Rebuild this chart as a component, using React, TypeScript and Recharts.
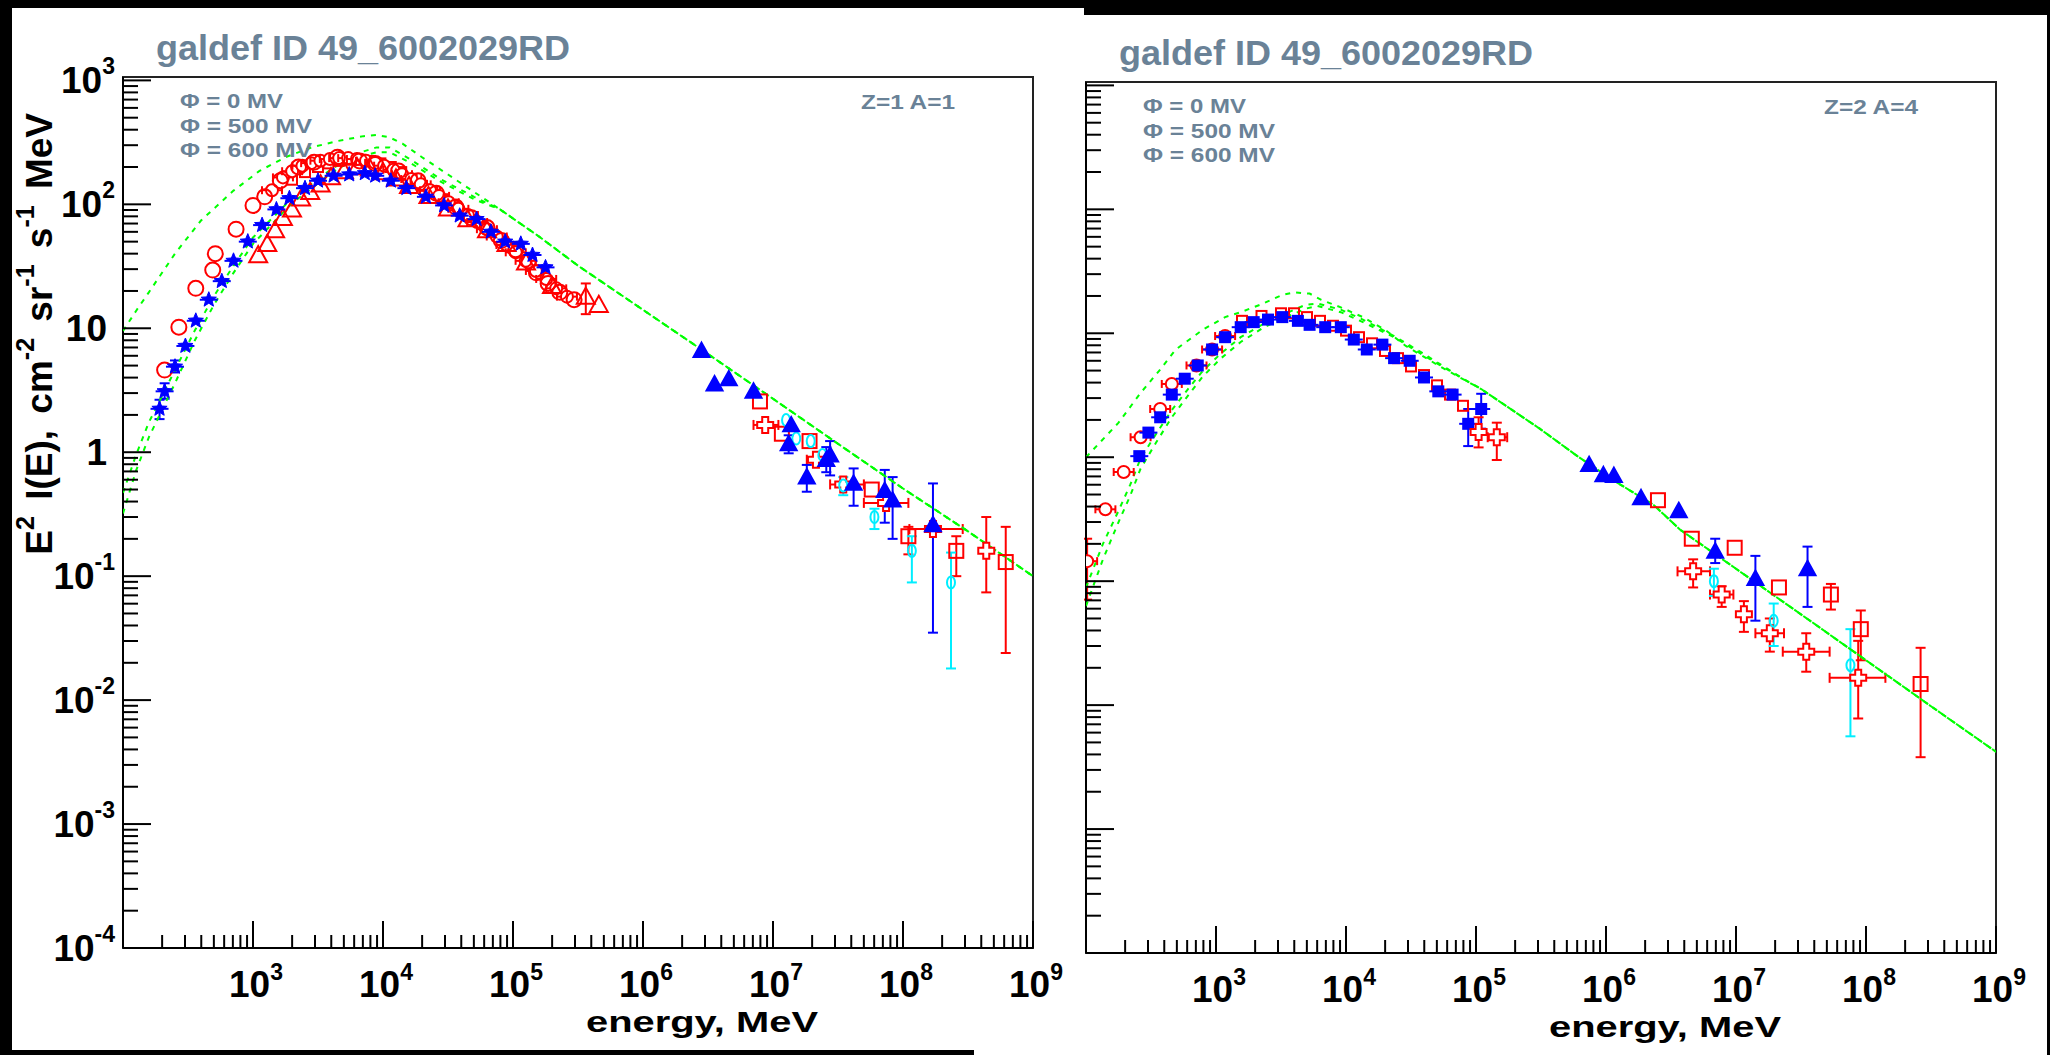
import React from "react";
import { ScatterChart, Scatter, XAxis, YAxis, ErrorBar, ReferenceArea } from "recharts";

const GREEN = "#00ff00";
const RED = "#ff0000";
const BLUE = "#0000ff";
const CYAN = "#00eeff";
const SLATE = "#6a8297";
const FONT = "'Liberation Sans', Arial, Helvetica, sans-serif";

const X_DOMAIN = [1e2, 1e9];
const Y_DOMAIN = [1e-4, 1065];

const X_DECADES = [1e2, 1e3, 1e4, 1e5, 1e6, 1e7, 1e8, 1e9];
const Y_DECADES = [1e-4, 1e-3, 1e-2, 1e-1, 1, 10, 1e2, 1e3];
const MINOR_STEPS = [2, 3, 4, 5, 6, 7, 8, 9];

const X_TICK_LABELS: [number, string, string][] = [
  [1e3, "10", "3"], [1e4, "10", "4"], [1e5, "10", "5"], [1e6, "10", "6"],
  [1e7, "10", "7"], [1e8, "10", "8"], [1e9, "10", "9"],
];
const Y_TICK_LABELS: [number, string, string][] = [
  [1e3, "10", "3"], [1e2, "10", "2"], [10, "10", ""], [1, "1", ""],
  [1e-1, "10", "-1"], [1e-2, "10", "-2"], [1e-3, "10", "-3"], [1e-4, "10", "-4"],
];

const TITLE = "galdef ID 49_6002029RD";
const LEGEND = ["\u03A6 = 0 MV", "\u03A6 = 500 MV", "\u03A6 = 600 MV"];
const NUCLEUS = ["Z=1 A=1", "Z=2 A=4"];
const X_TITLE = "energy, MeV";

// [E (MeV), E^2 I(E), yLow?, yHigh?, xLow?, xHigh?]
type Pt = (number | null)[];

// ---------- protons (left pad) ----------
const pTail: Pt[] = [[158489, 55], [316228, 32], [794328, 16.6], [3.16e6, 6.2], [1e7, 2.7], [3.16e7, 1.17], [1e8, 0.51], [3.16e8, 0.23], [1e9, 0.1]];
const pPhi0: Pt[] = [[100, 9.5], [126, 13.8], [158, 19.5], [251, 40], [398, 74], [708, 129], [1122, 186], [1778, 240], [2818, 288], [4467, 324], [7079, 355], [8913, 363], [11220, 347], [14125, 309], [19953, 240], [31623, 174], [50119, 126], [79433, 91], ...pTail];
const pPhi500: Pt[] = [[100, 0.47], [126, 0.95], [158, 1.74], [251, 4.6], [355, 9.5], [501, 18.2], [708, 32], [1000, 54], [1995, 112], [3981, 191], [6310, 257], [8913, 288], [11220, 288], [15849, 234], [28184, 158], [50119, 115], [79433, 91], ...pTail];
const pPhi600: Pt[] = [[100, 0.32], [126, 0.71], [158, 1.32], [251, 3.6], [355, 7.9], [501, 15.5], [708, 28], [1000, 48], [1995, 102], [3981, 178], [6310, 240], [8913, 263], [11220, 263], [15849, 219], [28184, 151], [50119, 110], [79433, 91], ...pTail];

const pRedCircle: Pt[] = [[209, 4.6], [269, 10.2], [363, 21], [490, 29.5], [513, 40], [741, 63], [1000, 98], [1230, 115], [1622, 155], [2239, 200], [2951, 219], [4467, 240], [6607, 224], [8710, 214], [13183, 186], [18621, 155], [25704, 123], [36308, 95], [47863, 78], [63096, 65], [81283, 51], [104713, 43], [131826, 35], [151356, 28], [186209, 23], [229087, 19.5], [295121, 17]];
const pRedBand: Pt[] = [[1400, 130], [1700, 165], [2000, 185], [2400, 205], [2800, 215], [3300, 225], [3900, 232], [4600, 236], [5400, 236], [6300, 232], [7400, 225], [8700, 216], [10200, 205], [12000, 190], [14000, 175], [16500, 160], [19500, 145], [23000, 130], [27000, 117], [32000, 104], [38000, 92], [45000, 82], [53000, 72], [63000, 63], [75000, 55], [89000, 47], [105000, 41], [125000, 35], [150000, 29], [180000, 25], [215000, 21], [260000, 18]];
const pRedTriangle: Pt[] = [[1096, 39], [1288, 48], [1479, 62], [1698, 78], [1995, 91], [2344, 112], [2754, 126], [3311, 145], [3981, 166], [5012, 186], [6310, 200], [7943, 195], [10000, 182], [12589, 162], [15849, 141], [22387, 117], [31623, 93], [44668, 76], [63096, 62], [89125, 48], [125893, 34], [199526, 22], [363078, 18, 13, 23], [457088, 15.5]];
const pRedDense: Pt[] = [[1995, 158], [2512, 182], [3162, 200], [3802, 214], [4571, 224], [5495, 229], [6607, 229], [7943, 224], [9550, 214], [11482, 200], [13804, 182], [16596, 158], [19953, 141], [23988, 126], [28840, 110], [34674, 98]];
const pBlueLow: Pt[] = [[191, 2.24, 1.85, 2.65], [209, 3.1, 2.7, 3.6], [251, 4.9, 4.4, 5.5], [302, 7.2], [363, 11.5], [457, 17], [575, 24], [708, 35], [912, 50], [1175, 68], [1514, 91], [1905, 112], [2512, 135], [3162, 155], [4169, 170], [5495, 174], [7244, 178], [8710, 170], [11482, 155], [15136, 135], [21380, 115], [29512, 98], [38905, 81], [52481, 76], [67608, 60], [87096, 50], [114815, 48], [141254, 39], [177828, 31]];
const pBlueTri: Pt[] = [[2.82e6, 6.6], [3.55e6, 3.55], [4.57e6, 3.9], [7.08e6, 3.1], [1.38e7, 1.66], [1.32e7, 1.17, 0.98, 1.37], [1.82e7, 0.63, 0.48, 0.79], [2.75e7, 0.95, 0.65, 1.23], [2.57e7, 0.87, 0.69, 1.1], [4.17e7, 0.56, 0.37, 0.74], [7.24e7, 0.49, 0.27, 0.72], [8.32e7, 0.41, 0.2, 0.63], [1.7e8, 0.26, 0.035, 0.56]];
const pRedSquare: Pt[] = [[7.94e6, 2.57], [1.17e7, 1.41], [1.91e7, 1.23], [5.75e7, 0.5], [1.1e8, 0.21, 0.15, 0.25], [2.57e8, 0.16, 0.1, 0.21], [6.17e8, 0.13, 0.024, 0.25]];
const pRedCross: Pt[] = [[8.71e6, 1.66, null, null, 7.08e6, 1.1e7], [2.14e7, 0.87, null, null, 1.82e7, 2.57e7], [3.47e7, 0.55, null, null, 2.75e7, 5.0e7], [7.41e7, 0.39, null, null, 5.0e7, 1.1e8], [1.7e8, 0.24, null, null, 1.12e8, 2.88e8], [4.37e8, 0.16, 0.074, 0.3]];
const pCyan: Pt[] = [[1.26e7, 1.82], [1.51e7, 1.29], [1.95e7, 1.23], [2.4e7, 0.95], [3.47e7, 0.54, 0.45, 0.63], [6.03e7, 0.3, 0.24, 0.35], [1.17e8, 0.16, 0.089, 0.21], [2.34e8, 0.089, 0.018, 0.155]];

// ---------- helium (right pad) ----------
const hTail: Pt[] = [[109648, 3.55], [309030, 1.7], [602560, 1.02], [1.2e6, 0.63], [2.34e6, 0.41], [3.72e6, 0.26], [1e7, 0.126], [3.16e7, 0.054], [1e8, 0.023], [3.16e8, 0.0098], [1e9, 0.0042]];
const hPhi0: Pt[] = [[100, 1.0], [178, 1.9], [263, 3.3], [372, 5.1], [490, 7.4], [794, 10.7], [1175, 13.5], [1549, 14.8], [2188, 17], [3236, 20.4], [3981, 21.4], [5248, 20.9], [6457, 18.6], [9120, 16.2], [13490, 13.5], [20417, 10.5], [28840, 7.9], [56234, 5.2], ...hTail];
const hPhi500: Pt[] = [[100, 0.089], [135, 0.2], [178, 0.37], [219, 0.6], [263, 0.98], [347, 1.55], [457, 2.4], [603, 3.5], [794, 5.0], [1096, 6.9], [1549, 9.3], [2344, 12.0], [3467, 14.5], [4898, 17.0], [6026, 17.4], [9120, 15.5], [13490, 12.9], [23442, 9.5], [39811, 6.8], [79433, 4.3], ...hTail];
const hPhi600: Pt[] = [[100, 0.063], [135, 0.15], [178, 0.3], [219, 0.49], [263, 0.81], [347, 1.32], [457, 2.1], [603, 3.1], [794, 4.5], [1096, 6.3], [1549, 8.5], [2344, 11.2], [3467, 13.5], [4898, 15.8], [6026, 16.6], [9120, 14.8], [13490, 12.3], [23442, 9.3], [39811, 6.6], [79433, 4.3], ...hTail];

const hRedCircle: Pt[] = [[102, 0.145, 0.071, 0.22], [141, 0.38], [195, 0.76], [263, 1.45], [372, 2.45], [457, 3.9], [708, 5.5], [933, 7.4], [1175, 9.5]];
const hRedDense: Pt[] = [[1585, 12.6], [2239, 13.8], [3162, 14.5], [3981, 14.5], [5012, 13.5], [6310, 12.6], [7943, 11.5], [10000, 10.5], [12589, 9.3], [15849, 8.3], [19953, 7.2], [25119, 6.3], [31623, 5.4], [39811, 4.6], [50119, 3.8], [63096, 3.2], [79433, 2.6]];
const hBlueLow: Pt[] = [[257, 1.02], [302, 1.58], [372, 2.1], [457, 3.2], [575, 4.3], [724, 5.5], [933, 7.4], [1175, 9.3], [1549, 11.2], [1950, 12.3], [2512, 12.9], [3236, 13.5], [4266, 12.6], [5248, 11.7], [6918, 11.2], [9120, 11.2], [11482, 8.9], [14454, 7.4], [19055, 8.1], [23442, 6.3], [30903, 6.0], [39811, 4.4], [51286, 3.4], [66069, 3.2], [87096, 1.86, 1.23, 2.45], [109648, 2.45, 1.7, 3.25]];
const hBlueTri: Pt[] = [[741310, 0.87], [954993, 0.72], [1.15e6, 0.71], [1.86e6, 0.47], [3.63e6, 0.37], [6.92e6, 0.174, 0.14, 0.22], [1.41e7, 0.105, 0.048, 0.16], [3.55e7, 0.126, 0.062, 0.19]];
const hRedSquare: Pt[] = [[2.51e6, 0.45], [4.57e6, 0.22], [9.77e6, 0.186], [2.14e7, 0.089], [5.37e7, 0.078, 0.059, 0.095], [9.12e7, 0.041, 0.023, 0.058], [2.63e8, 0.0148, 0.0038, 0.029]];
const hRedCross: Pt[] = [[104713, 1.6, 1.2, 2.1], [144544, 1.45, 0.95, 1.9, 123027, 173780], [4.68e6, 0.12, 0.089, 0.15, 3.55e6, 6.31e6], [7.76e6, 0.078, 0.062, 0.091, 6.31e6, 9.55e6], [1.15e7, 0.054, 0.039, 0.069], [1.82e7, 0.038, 0.027, 0.05, 1.41e7, 2.34e7], [3.47e7, 0.027, 0.0186, 0.038, 2.29e7, 5.25e7], [8.71e7, 0.0166, 0.0078, 0.033, 5.25e7, 1.41e8]];
const hCyan: Pt[] = [[6.76e6, 0.1, 0.076, 0.126], [1.95e7, 0.048, 0.03, 0.066], [7.59e7, 0.021, 0.0056, 0.041]];

const toRows = (pts: Pt[]) =>
  pts.map(([x, y, lo, hi, xlo, xhi]) => {
    const row: any = { x, y };
    if (lo != null && hi != null) row.ey = [(y as number) - lo, hi - (y as number)];
    if (xlo != null && xhi != null) row.ex = [(x as number) - xlo, xhi - (x as number)];
    return row;
  });

const X_TICKS = X_DECADES.concat(X_DECADES.slice(0, -1).flatMap((d) => MINOR_STEPS.map((m) => m * d)));
const Y_TICKS = Y_DECADES.concat(Y_DECADES.slice(0, -1).flatMap((d) => MINOR_STEPS.map((m) => m * d)));

const isDecade = (v: number) => Math.abs(Math.log10(v) - Math.round(Math.log10(v))) < 1e-6;
const findLabel = (labels: [number, string, string][], v: number) =>
  labels.find((l) => Math.abs(l[0] / v - 1) < 1e-6);

// ---------- markers ----------
const noMark = () => <g />;
const openCircle = (color: string, r: number) => (p: any) => (
  <circle cx={p.cx} cy={p.cy} r={r} fill="none" stroke={color} strokeWidth={2} />
);
const triangle = (color: string, s: number, filled: boolean) => (p: any) => (
  <path
    d={`M${p.cx},${p.cy - s}L${p.cx + s},${p.cy + s * 0.8}L${p.cx - s},${p.cy + s * 0.8}Z`}
    fill={filled ? color : "none"}
    stroke={color}
    strokeWidth={2}
  />
);
const openSquare = (color: string, s: number) => (p: any) => (
  <rect x={p.cx - s} y={p.cy - s} width={2 * s} height={2 * s} fill="none" stroke={color} strokeWidth={2} />
);
const openCross = (color: string, a: number, b: number) => (p: any) => {
  const { cx, cy } = p;
  const d = `M${cx - b},${cy - a}H${cx + b}V${cy - b}H${cx + a}V${cy + b}H${cx + b}V${cy + a}H${cx - b}V${cy + b}H${cx - a}V${cy - b}H${cx - b}Z`;
  return <path d={d} fill="#fff" stroke={color} strokeWidth={2} />;
};
const smallOval = (color: string) => (p: any) => (
  <ellipse cx={p.cx} cy={p.cy} rx={4} ry={6} fill="none" stroke={color} strokeWidth={2} />
);
const capCircle = (color: string) => (p: any) => (
  <g>
    <line x1={p.cx - 10} x2={p.cx + 10} y1={p.cy} y2={p.cy} stroke={color} strokeWidth={2} />
    <line x1={p.cx - 10} x2={p.cx - 10} y1={p.cy - 4} y2={p.cy + 4} stroke={color} strokeWidth={2} />
    <line x1={p.cx + 10} x2={p.cx + 10} y1={p.cy - 4} y2={p.cy + 4} stroke={color} strokeWidth={2} />
    <circle cx={p.cx} cy={p.cy} r={6} fill="#fff" stroke={color} strokeWidth={2} />
  </g>
);
const blueStar = (p: any) => {
  let d = "";
  for (let i = 0; i < 10; i++) {
    const a = -Math.PI / 2 + (i * Math.PI) / 5;
    const rad = i % 2 === 0 ? 8 : 3.5;
    d += (i === 0 ? "M" : "L") + (p.cx + rad * Math.cos(a)).toFixed(1) + "," + (p.cy + rad * Math.sin(a)).toFixed(1);
  }
  return (
    <g>
      <line x1={p.cx - 9} x2={p.cx + 9} y1={p.cy} y2={p.cy} stroke={BLUE} strokeWidth={2} />
      <path d={d + "Z"} fill={BLUE} stroke={BLUE} strokeWidth={1} />
    </g>
  );
};
const blueBox = (p: any) => (
  <g>
    <line x1={p.cx - 9} x2={p.cx + 9} y1={p.cy} y2={p.cy} stroke={BLUE} strokeWidth={2} />
    <rect x={p.cx - 6} y={p.cy - 6} width={12} height={12} fill={BLUE} />
  </g>
);

// ---------- axis ticks (ROOT style, drawn inward) ----------
const XTick = (props: any) => {
  const { x, y, payload } = props;
  const v = payload.value;
  const lab = findLabel(X_TICK_LABELS, v);
  return (
    <g>
      <line x1={x} x2={x} y1={y} y2={y - (isDecade(v) ? 27 : 13)} stroke="#000" strokeWidth={2} />
      {lab && (
        <text x={x + 3} y={y + 49} textAnchor="middle" fontFamily={FONT} fontWeight="bold" fontSize={37} fill="#000">
          <tspan>{lab[1]}</tspan>
          <tspan dy={-17} fontSize={23}>{lab[2]}</tspan>
        </text>
      )}
    </g>
  );
};

const makeYTick = (withLabels: boolean) => (props: any) => {
  const { x, y, payload } = props;
  const v = payload.value;
  const lab = withLabels ? findLabel(Y_TICK_LABELS, v) : undefined;
  return (
    <g>
      <line x1={x} x2={x + (isDecade(v) ? 28 : 15)} y1={y} y2={y} stroke="#000" strokeWidth={2} />
      {lab && (
        <text x={x - (lab[2] ? 8 : 16)} y={y + 13} textAnchor="end" fontFamily={FONT} fontWeight="bold" fontSize={37} fill="#000">
          <tspan>{lab[1]}</tspan>
          {lab[2] && <tspan dy={-19} fontSize={23}>{lab[2]}</tspan>}
        </text>
      )}
    </g>
  );
};

type Series = { pts: Pt[]; shape: (p: any) => React.ReactElement; color: string };

function Pad(props: {
  width: number;
  height: number;
  margin: { top: number; left: number; right: number; bottom: number };
  curves: Pt[][];
  series: Series[];
  yLabels: boolean;
}) {
  const { width, height, margin, curves, series, yLabels } = props;
  return (
    <ScatterChart width={width} height={height} margin={margin}>
      <XAxis
        type="number"
        dataKey="x"
        scale="log"
        domain={X_DOMAIN}
        allowDataOverflow
        ticks={X_TICKS}
        interval={0}
        tickSize={0}
        tickMargin={0}
        height={1}
        tickLine={false}
        axisLine={{ stroke: "#000", strokeWidth: 2 }}
        tick={XTick}
      />
      <YAxis
        type="number"
        dataKey="y"
        scale="log"
        domain={Y_DOMAIN}
        allowDataOverflow
        ticks={Y_TICKS}
        interval={0}
        tickSize={0}
        tickMargin={0}
        width={1}
        tickLine={false}
        axisLine={{ stroke: "#000", strokeWidth: 2 }}
        tick={makeYTick(yLabels)}
      />
      <ReferenceArea
        x1={X_DOMAIN[0]}
        x2={X_DOMAIN[1]}
        y1={Y_DOMAIN[0]}
        y2={Y_DOMAIN[1]}
        fill="none"
        fillOpacity={0}
        stroke="#222"
        strokeWidth={2}
      />
      {curves.map((c, i) => (
        <Scatter
          key={"curve" + i}
          data={toRows(c)}
          fill={GREEN}
          line={{ stroke: GREEN, strokeWidth: 2, strokeDasharray: "5 6" }}
          lineType="joint"
          shape={noMark}
          isAnimationActive={false}
        />
      ))}
      {series.map((s, i) => {
        const rows = toRows(s.pts);
        const hasY = rows.some((r) => r.ey);
        const hasX = rows.some((r) => r.ex);
        return (
          <Scatter key={"pts" + i} data={rows} fill={s.color} shape={s.shape} isAnimationActive={false}>
            {hasY && <ErrorBar dataKey="ey" direction="y" stroke={s.color} strokeWidth={2} width={5} />}
            {hasX && <ErrorBar dataKey="ex" direction="x" stroke={s.color} strokeWidth={2} width={5} />}
          </Scatter>
        );
      })}
    </ScatterChart>
  );
}

function PadText({ dx, dy, nucleus, yTitle }: { dx: number; dy: number; nucleus: string; yTitle: boolean }) {
  const widths = [103, 132, 132];
  return (
    <g transform={`translate(${dx},${dy})`} fontFamily={FONT} fontWeight="bold">
      <text x={156} y={60} fontSize={35} fill={SLATE} textLength={414} lengthAdjust="spacingAndGlyphs">
        {TITLE}
      </text>
      {LEGEND.map((t, i) => (
        <text key={t} x={180} y={108 + i * 24.5} fontSize={21} fill={SLATE} textLength={widths[i]} lengthAdjust="spacingAndGlyphs">
          {t}
        </text>
      ))}
      <text x={861} y={109} fontSize={21} fill={SLATE} textLength={94} lengthAdjust="spacingAndGlyphs">
        {nucleus}
      </text>
      <text x={586} y={1032} fontSize={30} fill="#000" textLength={232} lengthAdjust="spacingAndGlyphs">
        {X_TITLE}
      </text>
      {yTitle && (
        <text
          transform="translate(52,113) rotate(-90)"
          textAnchor="end"
          fontSize={37}
          fill="#000"
          wordSpacing={6}
          style={{ whiteSpace: "pre" }}
        >
          <tspan>E</tspan>
          <tspan dy={-18} fontSize={25}>2</tspan>
          <tspan dy={18}>{" I(E), cm"}</tspan>
          <tspan dy={-18} fontSize={25}>-2</tspan>
          <tspan dy={18}>{" sr"}</tspan>
          <tspan dy={-18} fontSize={25}>-1</tspan>
          <tspan dy={18}>{" s"}</tspan>
          <tspan dy={-18} fontSize={25}>-1</tspan>
          <tspan dy={18}>{" MeV"}</tspan>
        </text>
      )}
    </g>
  );
}

export default function App() {
  const protonSeries: Series[] = [
    { pts: pRedDense, shape: openSquare(RED, 5), color: RED },
    { pts: pRedBand, shape: capCircle(RED), color: RED },
    { pts: pRedTriangle, shape: triangle(RED, 9, false), color: RED },
    { pts: pRedCircle, shape: openCircle(RED, 7.5), color: RED },
    { pts: pBlueLow, shape: blueStar, color: BLUE },
    { pts: pRedSquare, shape: openSquare(RED, 7), color: RED },
    { pts: pRedCross, shape: openCross(RED, 8, 3), color: RED },
    { pts: pCyan, shape: smallOval(CYAN), color: CYAN },
    { pts: pBlueTri, shape: triangle(BLUE, 8, true), color: BLUE },
  ];
  const heliumSeries: Series[] = [
    { pts: hRedDense, shape: openSquare(RED, 5), color: RED },
    { pts: hRedCircle, shape: capCircle(RED), color: RED },
    { pts: hBlueLow, shape: blueBox, color: BLUE },
    { pts: hRedSquare, shape: openSquare(RED, 7), color: RED },
    { pts: hRedCross, shape: openCross(RED, 8, 3), color: RED },
    { pts: hCyan, shape: smallOval(CYAN), color: CYAN },
    { pts: hBlueTri, shape: triangle(BLUE, 8, true), color: BLUE },
  ];

  return (
    <div
      style={{
        position: "absolute",
        left: 0,
        top: 0,
        width: 2050,
        height: 1055,
        background: "#000",
        overflow: "hidden",
        fontFamily: FONT,
      }}
    >
      <div style={{ position: "absolute", left: 12, top: 8, width: 1072, height: 1042, background: "#fff" }}>
        <Pad
          width={1072}
          height={1042}
          margin={{ top: 69, left: 110, right: 51, bottom: 101 }}
          curves={[pPhi0, pPhi500, pPhi600]}
          series={protonSeries}
          yLabels
        />
      </div>
      <div style={{ position: "absolute", left: 974, top: 1050, width: 110, height: 5, background: "#fff" }} />
      <div style={{ position: "absolute", left: 1084, top: 15, width: 963, height: 1040, background: "#fff" }}>
        <Pad
          width={963}
          height={1040}
          margin={{ top: 67, left: 1, right: 51, bottom: 101 }}
          curves={[hPhi0, hPhi500, hPhi600]}
          series={heliumSeries}
          yLabels={false}
        />
      </div>
      <svg
        width={2050}
        height={1055}
        style={{ position: "absolute", left: 0, top: 0, pointerEvents: "none" }}
      >
        <PadText dx={0} dy={0} nucleus={NUCLEUS[0]} yTitle />
        <PadText dx={963} dy={5} nucleus={NUCLEUS[1]} yTitle={false} />
      </svg>
    </div>
  );
}
